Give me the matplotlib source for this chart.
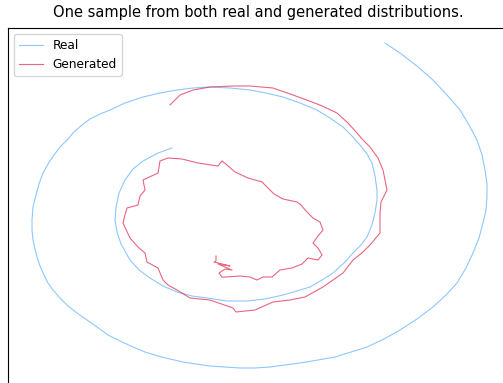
import matplotlib
matplotlib.use('Agg')
import matplotlib.pyplot as plt
import numpy as np

# real spiral sample, traced from the inner end outwards
real_x = [172, 158, 143, 133, 125, 119, 116, 115, 117, 121, 130, 139, 150, 163,
          177, 192, 207, 227, 247, 265, 283, 297, 310, 322, 333, 344, 353, 361,
          367, 372, 375, 377, 377, 375, 372, 367, 360, 352, 343, 330, 317, 300,
          283, 266, 250, 230, 210, 193, 177, 160, 143, 125, 110, 100, 90, 82,
          74, 67, 60, 54, 48, 43, 39, 36, 33, 32, 32, 33, 35, 37, 40, 44, 48,
          53, 60, 68, 77, 87, 97, 108, 120, 133, 145, 158, 170, 183, 196, 210,
          225, 240, 255, 270, 285, 300, 318, 335, 351, 367, 384, 400, 417, 433,
          446, 457, 466, 473, 479, 483, 486, 487, 487, 485, 482, 477, 469, 460,
          447, 433, 417, 400, 385]
real_y = [148, 153, 161, 169, 180, 193, 207, 220, 232, 244, 260, 270, 278, 286,
          292, 296, 298, 301, 301, 299, 295, 291, 287, 280, 273, 263, 253, 245,
          237, 225, 213, 200, 190, 176, 163, 154, 145, 136, 127, 118, 110, 103,
          97, 93, 90, 88, 87, 88, 90, 93, 97, 103, 110, 114, 119, 125, 132, 140,
          147, 155, 164, 173, 184, 195, 207, 220, 230, 240, 249, 257, 266, 275,
          283, 290, 298, 306, 313, 320, 327, 335, 341, 347, 352, 356, 359, 362,
          364, 366, 367, 368, 368, 367, 365, 363, 360, 357, 352, 347, 339, 330,
          319, 307, 295, 283, 268, 253, 238, 223, 210, 197, 184, 170, 155, 140,
          125, 110, 95, 80, 66, 53, 43]

# generated sample, same ordering
gen_x = [216, 216, 214, 230, 218, 232, 225, 219, 222, 226, 240, 250, 257, 263,
         272, 280, 292, 302, 308, 318, 322, 318, 313, 318, 323, 320, 313, 307,
         300, 297, 283, 274, 268, 262, 248, 235, 227, 222, 218, 198, 182, 168,
         160, 158, 143, 145, 140, 138, 127, 125, 123, 130, 138, 145, 147, 158,
         163, 168, 177, 190, 210, 233, 236, 255, 273, 290, 305, 323, 333, 343,
         353, 363, 370, 380, 380, 381, 387, 383, 378, 370, 363, 357, 348, 337,
         320, 293, 273, 250, 233, 210, 193, 180, 170]
gen_y = [256, 261, 262, 266, 264, 270, 269, 273, 277, 277, 276, 277, 280, 277,
         277, 270, 268, 264, 258, 260, 255, 248, 243, 236, 230, 222, 218, 212,
         204, 202, 199, 194, 188, 182, 178, 172, 165, 161, 166, 163, 159, 158,
         161, 173, 180, 190, 196, 205, 208, 215, 223, 238, 247, 253, 262, 268,
         280, 285, 290, 298, 300, 308, 312, 310, 302, 300, 297, 287, 280, 273,
         260, 252, 245, 233, 213, 202, 190, 170, 158, 147, 140, 133, 123, 113,
         105, 95, 88, 86, 86, 87, 90, 95, 105]

W, H = 503, 383
fig = plt.figure(figsize=(W / 100, H / 100), dpi=100)
ax = fig.add_axes([8 / W, (H - 423) / H, 552 / W, 395 / H])

ax.plot(real_x, real_y, color='dodgerblue', alpha=0.5, lw=0.8, label='Real')
ax.plot(gen_x, gen_y, color='crimson', alpha=0.65, lw=0.8, label='Generated')

ax.set_xlim(8, 560)
ax.set_ylim(423, 28)
ax.set_xticks([])
ax.set_yticks([])

ax.legend(loc='upper left', fontsize=8.7)
fig.text(258 / W, 1 - 12 / H, 'One sample from both real and generated distributions.',
         ha='center', va='center', fontsize=10.5)

fig.savefig('out.png', dpi=100)
